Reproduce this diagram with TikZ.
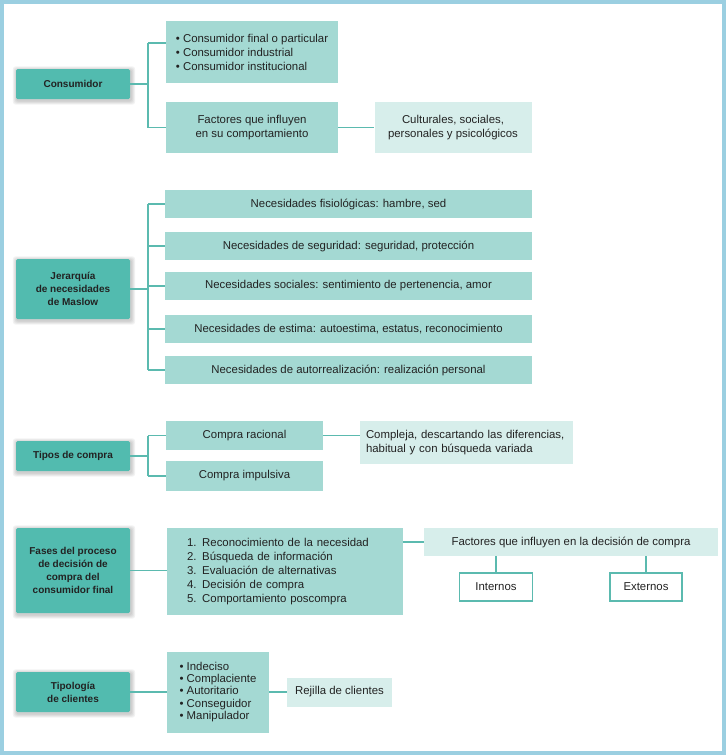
\documentclass[tikz,border=0pt]{standalone}
\usepackage{fontspec}
\setmainfont{Liberation Sans}
\usetikzlibrary{backgrounds,calc}
\definecolor{cdark}{HTML}{52BBAF}
\definecolor{cmid}{HTML}{A4D9D3}
\definecolor{clight}{HTML}{D7EEEB}
\definecolor{cline}{HTML}{5BBAAF}
\definecolor{cframe}{HTML}{9BCFE1}
\definecolor{ctext}{HTML}{222222}
\begin{document}
\begin{tikzpicture}[x=1pt,y=-1pt,
  conn/.style={draw=cline, line width=1.2pt},
  darkbox/.style={fill=cdark, rounded corners=1.5pt, inner sep=0pt, align=center, text=ctext, font=\bfseries\fontsize{10}{12.8}\selectfont},
  midbox/.style={fill=cmid, inner sep=0pt, align=center, text=ctext, font=\fontsize{11.4}{14}\selectfont},
  lightbox/.style={fill=clight, inner sep=0pt, align=center, text=ctext, font=\fontsize{11.4}{14}\selectfont},
  whitebox/.style={fill=white, draw=cline, line width=1.2pt, inner sep=0pt, text=ctext, font=\fontsize{11.4}{14}\selectfont},
  masbox/.style={midbox, minimum width=367pt, minimum height=28pt}
]
\useasboundingbox (0,0) rectangle (726,755);
\draw[cframe, line width=4pt] (2,2) rectangle (724,753);

% Consumidor
\node[darkbox, minimum width=114pt, minimum height=30pt] (cons) at (73,84) {Consumidor};
\node[midbox, minimum width=172pt, minimum height=62pt, align=left] (c1) at (252,52)
  {\textbullet\ Consumidor final o particular\\\textbullet\ Consumidor industrial\\\textbullet\ Consumidor institucional};
\node[midbox, minimum width=172pt, minimum height=51pt] (c2) at (252,127.5) {Factores que influyen\\en su comportamiento};
\node[lightbox, minimum width=157pt, minimum height=51pt] (c3) at (453,127.5) {Culturales, sociales,\\personales y psicológicos};
\coordinate (j1) at (148,0);
\draw[conn] (cons.east) -- (cons.east -| j1);
\draw[conn] ([yshift=9pt]c1.west -| j1) -- (c2.west -| j1);
\draw[conn] ([yshift=9pt]c1.west -| j1) -- ([yshift=9pt]c1.west);
\draw[conn] (c2.west -| j1) -- (c2.west);
\draw[conn] (c2.east) -- (c3.west);

% Maslow
\node[darkbox, minimum width=114pt, minimum height=60pt] (mas) at (73,289) {Jerarquía\\de necesidades\\de Maslow};
\node[masbox] (m1) at (348.5,204) {Necesidades fisiológicas: hambre, sed};
\node[masbox] (m2) at (348.5,246) {Necesidades de seguridad: seguridad, protección};
\node[masbox] (m3) at (348.5,286) {Necesidades sociales: sentimiento de pertenencia, amor};
\node[masbox] (m4) at (348.5,329) {Necesidades de estima: autoestima, estatus, reconocimiento};
\node[masbox] (m5) at (348.5,370) {Necesidades de autorrealización: realización personal};
\draw[conn] (mas.east) -- (mas.east -| j1);
\draw[conn] (m1.west -| j1) -- (m5.west -| j1);
\foreach \m in {m1,m2,m3,m4,m5} \draw[conn] (\m.west -| j1) -- (\m.west);

% Tipos de compra
\node[darkbox, minimum width=114pt, minimum height=30pt] (tip) at (73,456) {Tipos de compra};
\node[midbox, minimum width=157pt, minimum height=29pt] (t1) at (244.5,435.5) {Compra racional};
\node[midbox, minimum width=157pt, minimum height=30pt] (t2) at (244.5,476) {Compra impulsiva};
\node[lightbox, text width=201pt, inner xsep=6pt, minimum height=43pt, align=left] (t3) at (466.5,442.5)
  {Compleja, descartando las diferencias,\\habitual y con búsqueda variada};
\draw[conn] (tip.east) -- (tip.east -| j1);
\draw[conn] (t1.west -| j1) -- (t2.west -| j1);
\draw[conn] (t1.west -| j1) -- (t1.west);
\draw[conn] (t2.west -| j1) -- (t2.west);
\draw[conn] (t1.east) -- (t1.east -| t3.west);

% Fases
\node[darkbox, minimum width=114pt, minimum height=85pt] (fas) at (73,570.5) {Fases del proceso\\de decisión de\\compra del\\consumidor final};
\node[midbox, text width=196pt, inner xsep=20pt, minimum height=87pt, align=left] (f1) at (285,571.5)
  {1. Reconocimiento de la necesidad\\2. Búsqueda de información\\3. Evaluación de alternativas\\4. Decisión de compra\\5. Comportamiento poscompra};
\node[lightbox, minimum width=294pt, minimum height=28pt] (fd) at (571,542) {Factores que influyen en la decisión de compra};
\node[whitebox, minimum width=73pt, minimum height=28pt] (fi) at (496,587) {Internos};
\node[whitebox, minimum width=72pt, minimum height=28pt] (fe) at (646,587) {Externos};
\draw[conn] (fas.east) -- (fas.east -| f1.west);
\draw[conn] (fd.west -| f1.east) -- (fd.west);
\draw[conn] (fi.north |- fd.south) -- (fi.north);
\draw[conn] (fe.north |- fd.south) -- (fe.north);

% Tipologia
\node[darkbox, minimum width=114pt, minimum height=40pt] (tyc) at (73,692) {Tipología\\de clientes};
\node[midbox, minimum width=102pt, minimum height=81pt, align=left, font=\fontsize{11.4}{12.2}\selectfont] (y1) at (218,692)
  {\textbullet\ Indeciso\\\textbullet\ Complaciente\\\textbullet\ Autoritario\\\textbullet\ Conseguidor\\\textbullet\ Manipulador};
\node[lightbox, minimum width=105pt, minimum height=29pt] (y2) at (339.5,692) {Rejilla de clientes};
\draw[conn] (tyc.east) -- (y1.west);
\draw[conn] (y1.east) -- (y2.west);

% shadows
\begin{scope}[on background layer]
\foreach \n in {cons,mas,tip,fas,tyc}{
  \foreach \e in {1pt,2pt,3pt,4pt}{
    \fill[black, opacity=0.05, rounded corners=3pt]
      ([shift={(-\e+1pt,-\e-1.5pt)}]\n.south west) rectangle ([shift={(\e+1pt,\e-1.5pt)}]\n.north east);
  }
}
\end{scope}
\end{tikzpicture}
\end{document}
